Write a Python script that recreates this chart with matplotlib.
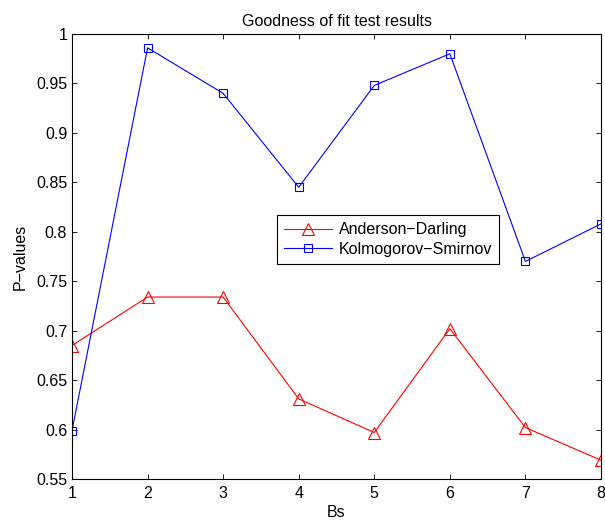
import matplotlib
matplotlib.use("Agg")
import matplotlib.pyplot as plt

# ── data ──────────────────────────────────────────────────────────────────────
bs = [1, 2, 3, 4, 5, 6, 7, 8]
anderson_darling = [0.685, 0.734, 0.734, 0.631, 0.597, 0.702, 0.602, 0.569]
kolmogorov_smirnov = [0.599, 0.986, 0.940, 0.845, 0.948, 0.980, 0.770, 0.808]
y_ticks = [0.55, 0.6, 0.65, 0.7, 0.75, 0.8, 0.85, 0.9, 0.95, 1]
y_tick_labels = ["0.55", "0.6", "0.65", "0.7", "0.75", "0.8", "0.85", "0.9", "0.95", "1"]

FS = 11.5
plt.rcParams["font.family"] = ["Liberation Sans", "DejaVu Sans"]
plt.rcParams["font.size"] = FS

fig = plt.figure(figsize=(6.05, 5.25), dpi=100)
# axes box: x 72..601 px, y 34..479 px
ax = fig.add_axes([72 / 605, 46 / 525, 529 / 605, 445 / 525])

ax.plot(bs, anderson_darling, color="red", lw=0.8, marker="^", ms=8.5,
        mfc="none", mec="red", mew=0.8, label="Anderson\u2212Darling")
ax.plot(bs, kolmogorov_smirnov, color="blue", lw=0.8, marker="s", ms=5.5,
        mfc="none", mec="blue", mew=0.8, label="Kolmogorov\u2212Smirnov")

ax.set_xlim(1, 8)
ax.set_ylim(0.55, 1)
ax.set_xticks(bs)
ax.set_yticks(y_ticks)
ax.set_yticklabels(y_tick_labels)
ax.tick_params(direction="in", top=True, right=True, length=3.5, width=0.6,
               labelsize=FS)
ax.tick_params(axis="x", pad=5)
ax.tick_params(axis="y", pad=3.5)
for s in ax.spines.values():
    s.set_linewidth(0.8)

ax.set_title("Goodness of fit test results", fontsize=FS, pad=6)
ax.set_xlabel("Bs", fontsize=FS, labelpad=3)
ax.set_ylabel("P\u2212values", fontsize=FS, labelpad=6)

leg = ax.legend(loc="upper left", bbox_to_anchor=(205 / 529, 264 / 445),
                fancybox=False, edgecolor="black", framealpha=1, fontsize=FS,
                handlelength=3.0, borderpad=0.45, labelspacing=0.3,
                handletextpad=0.4, borderaxespad=0)
leg.get_frame().set_linewidth(0.8)

fig.savefig("out.png", dpi=100, facecolor="white")
